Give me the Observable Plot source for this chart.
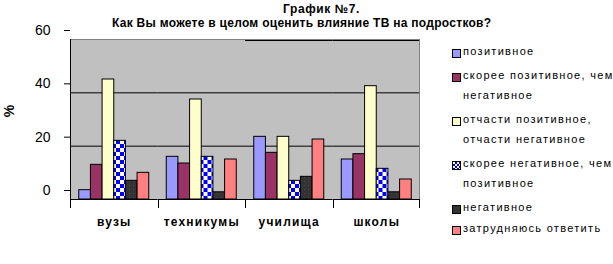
<!DOCTYPE html>
<html>
<head>
<meta charset="utf-8">
<script src="https://cdn.jsdelivr.net/npm/d3@7"></script>
<script src="https://cdn.jsdelivr.net/npm/@observablehq/plot@0.6"></script>
<style>
  html, body { margin: 0; padding: 0; background: #fff; }
  #wrap { position: relative; width: 613px; height: 264px; font-family: 'Liberation Sans', Arial, sans-serif; color: #000; overflow: hidden; }
  #wrap svg { position: absolute; left: 0; top: 0; }
  .t1, .t2 { position: absolute; font-weight: bold; font-size: 12px; white-space: nowrap; }
  .t1 { letter-spacing: 0.6px; }
  .t2 { letter-spacing: 0.28px; }
  .pct { position: absolute; font-weight: bold; font-size: 14px; transform: rotate(-90deg); transform-origin: center; }
  #legend { position: absolute; left: 452px; top: 41px; width: 170px; font-size: 11px; letter-spacing: 1.3px; }
  .item { display: flex; align-items: flex-start; margin-bottom: 4px; line-height: 20px; }
  .item:nth-child(n+5) { margin-bottom: 1px; }
  .sw { flex: none; width: 7px; height: 7px; border: 1px solid #000; margin-top: 8px; margin-right: 2px; }
  .lbl { width: 158px; }
</style>
</head>
<body>
<div id="wrap"></div>
<script>
const categories = ["вузы", "техникумы", "училища", "школы"];
const seriesNames = [
  "позитивное",
  "скорее позитивное, чем негативное",
  "отчасти позитивное, отчасти негативное",
  "скорее негативное, чем позитивное",
  "негативное",
  "затрудняюсь ответить"
];
const positive       = [3.5, 16, 23.5, 15];
const ratherPositive = [13, 13.5, 17.5, 17];
const mixed          = [45, 37.5, 23.5, 42.5];
const ratherNegative = [22, 16, 7, 11.5];
const negative       = [7, 2.7, 8.5, 2.7];
const undecided      = [10, 15, 22.5, 7.5];
const yTicks = [0, 20, 40, 60];
const seriesColors = ["#9999ff", "#993366", "#ffffcc", "url(#checker)", "url(#dots)", "#ff8080"];
const swatchCss = ["#9999ff", "#993366", "#ffffcc",
  "conic-gradient(#0000ff 25%, #fff 0 50%, #0000ff 0 75%, #fff 0)", "#333333", "#ff8080"];

const seriesValues = [positive, ratherPositive, mixed, ratherNegative, negative, undecided];
const data = categories.flatMap((c, i) =>
  seriesNames.map((s, j) => ({category: c, series: s, value: seriesValues[j][i]})));

const plot = Plot.plot({
  width: 613, height: 264,
  marginLeft: 70, marginRight: 193, marginTop: 39, marginBottom: 65,
  style: {fontFamily: "'Liberation Sans', Arial, sans-serif", background: "transparent", overflow: "visible", color: "#000"},
  fx: {domain: categories, padding: 0, label: null, round: false},
  x: {domain: seriesNames, paddingInner: 0, paddingOuter: 0.75, axis: null, round: false},
  y: {domain: [0, 60], label: null},
  color: {domain: seriesNames, range: seriesColors},
  marks: [
    Plot.ruleY([20, 40], {stroke: "#000"}),
    Plot.ruleY([60], {stroke: "#808080"}),
    Plot.ruleY(["училища", "школы"], {fx: d => d, y: 60, dy: 1, stroke: "#000"}),
    Plot.barY(data, {fx: "category", x: "series", y: "value", fill: "series", stroke: "#000", strokeWidth: 1}),
    Plot.ruleY([0], {stroke: "#000"}),
    Plot.axisY({ticks: yTicks, tickSize: 6, tickPadding: 14, fontSize: 14, dy: -9, label: null}),
    Plot.axisFx({anchor: "bottom", tickSize: 0, tickPadding: 18, fontSize: 12, fontWeight: "bold", label: null})
  ]
});

const wrap = document.getElementById("wrap");
wrap.appendChild(plot);

const svg = d3.select(plot);
const defs = svg.insert("defs", ":first-child");
const chk = defs.append("pattern").attr("id", "checker").attr("patternUnits", "userSpaceOnUse")
  .attr("width", 8).attr("height", 8);
chk.append("rect").attr("width", 8).attr("height", 8).attr("fill", "#fff");
chk.append("rect").attr("width", 4).attr("height", 4).attr("fill", "#0000ff");
chk.append("rect").attr("x", 4).attr("y", 4).attr("width", 4).attr("height", 4).attr("fill", "#0000ff");
const dots = defs.append("pattern").attr("id", "dots").attr("patternUnits", "userSpaceOnUse")
  .attr("width", 4).attr("height", 4);
dots.append("rect").attr("width", 4).attr("height", 4).attr("fill", "#333333");
dots.append("rect").attr("x", 1).attr("y", 1).attr("width", 1).attr("height", 1).attr("fill", "#4a4a4a");

svg.selectAll('g[aria-label="fx-axis tick label"]').style("letter-spacing", "1.2px");

// background, axis line, right border and category separators, from Plot's own scales
const fx = plot.scale("fx");
const ys = plot.scale("y");
const bw = fx.bandwidth;
const x0 = fx.apply(categories[0]);
const x1 = fx.apply(categories[categories.length - 1]) + bw;
const yTop = ys.apply(60), yBot = ys.apply(0);
svg.insert("rect", "defs + *")
  .attr("x", x0).attr("y", yTop).attr("width", x1 - x0).attr("height", yBot - yTop)
  .attr("fill", "#c0c0c0");
const g = svg.append("g");
g.append("line").attr("x1", x1 - 0.5).attr("x2", x1 - 0.5).attr("y1", yTop).attr("y2", yBot).attr("stroke", "#808080");
g.append("line").attr("x1", x0 + 0.5).attr("x2", x0 + 0.5).attr("y1", yTop).attr("y2", yBot + 0.5).attr("stroke", "#000");
const edges = categories.map(c => fx.apply(c)).concat([x1]);
g.selectAll(".sep").data(edges).join("line")
  .attr("x1", (d, i) => Math.round(d) + (i === edges.length - 1 ? -0.5 : 0.5))
  .attr("x2", (d, i) => Math.round(d) + (i === edges.length - 1 ? -0.5 : 0.5))
  .attr("y1", yBot).attr("y2", yBot + 9).attr("stroke", "#000");

// titles
const t1 = document.createElement("div");
t1.className = "t1"; t1.textContent = "График №7.";
t1.style.left = "283px"; t1.style.top = "2px";
wrap.appendChild(t1);
const t2 = document.createElement("div");
t2.className = "t2"; t2.textContent = "Как Вы можете в целом оценить влияние ТВ на подростков?";
t2.style.left = "112px"; t2.style.top = "16px";
wrap.appendChild(t2);

const pct = document.createElement("div");
pct.className = "pct"; pct.textContent = "%";
pct.style.left = "3px"; pct.style.top = "103px";
wrap.appendChild(pct);

// legend
const legend = d3.select(wrap).append("div").attr("id", "legend");
const items = legend.selectAll(".item").data(seriesNames).join("div").attr("class", "item");
items.append("div").attr("class", "sw").style("background", (d, i) => swatchCss[i])
  .style("background-size", (d, i) => i === 3 ? "4px 4px" : null);
items.append("div").attr("class", "lbl").text(d => d);
</script>
</body>
</html>
